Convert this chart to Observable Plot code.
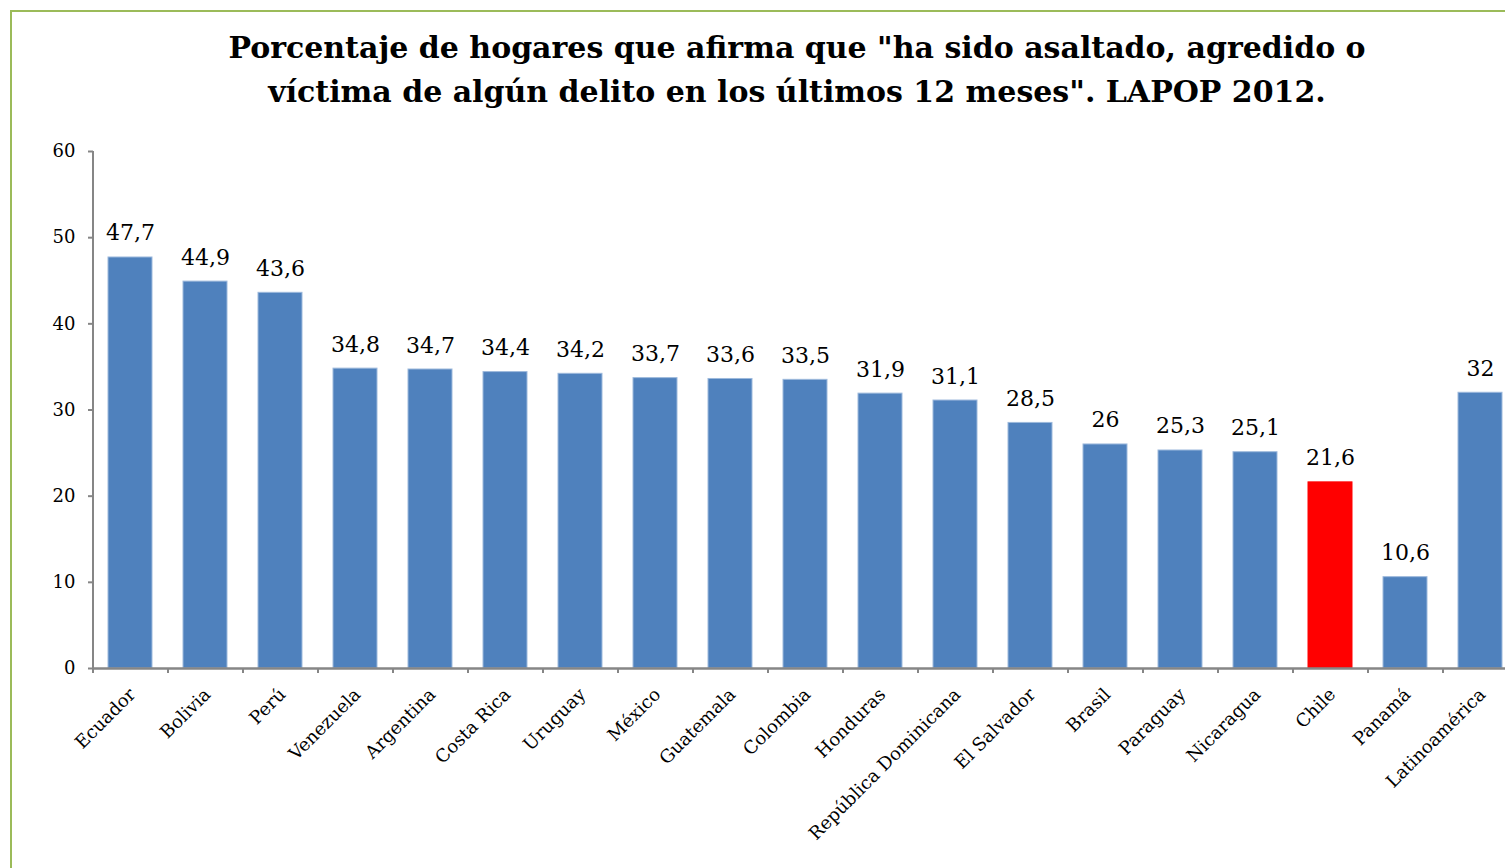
<!DOCTYPE html>
<html>
<head>
<meta charset="utf-8">
<script src="https://cdn.jsdelivr.net/npm/d3@7"></script>
<script src="https://cdn.jsdelivr.net/npm/@observablehq/plot@0.6"></script>
<style>
  html, body { margin: 0; padding: 0; background: #fff; overflow: hidden; width: 1505px; height: 868px; }
  #frame { position: absolute; left: 10px; top: 10px; width: 1600px; height: 900px; border: 2px solid #9BBB59; box-sizing: border-box; }
  #title { position: absolute; left: 0; top: 0; width: 1594px; font-family: "DejaVu Serif", serif; font-weight: bold; font-size: 30px; color: #000; }
  #title div { position: absolute; left: 0; width: 1594px; text-align: center; line-height: 36px; white-space: nowrap; }
  #chart { position: absolute; left: 0; top: 120px; }
  #chart svg { max-width: none; }
</style>
</head>
<body>
<div id="frame"></div>
<div id="title"></div>
<div id="chart"></div>
<script>
const titleLines = [
  "Porcentaje de hogares que afirma que \"ha sido asaltado, agredido o",
  "víctima de algún delito en los últimos 12 meses\". LAPOP 2012."
];
const countries = ["Ecuador","Bolivia","Perú","Venezuela","Argentina","Costa Rica","Uruguay","México","Guatemala","Colombia","Honduras","República Dominicana","El Salvador","Brasil","Paraguay","Nicaragua","Chile","Panamá","Latinoamérica"];
const values = [47.7,44.9,43.6,34.8,34.7,34.4,34.2,33.7,33.6,33.5,31.9,31.1,28.5,26,25.3,25.1,21.6,10.6,32];
const highlighted = ["Chile"];
const yTicks = [0,10,20,30,40,50,60];

const t = document.getElementById("title");
titleLines.forEach((s, i) => {
  const d = document.createElement("div");
  d.textContent = s;
  d.style.top = (30 + i * 44) + "px";
  t.appendChild(d);
});

const data = countries.map((c, i) => ({country: c, value: values[i]}));
const fmt = v => String(v).replace(".", ",");
const axisColor = "#868686";
const font = "DejaVu Serif";

const chart = Plot.plot({
  width: 1540,
  height: 748,
  marginLeft: 93,
  marginRight: 22,
  marginTop: 31,
  marginBottom: 200,
  style: {fontFamily: font, background: "transparent", overflow: "visible", maxWidth: "none"},
  x: {domain: countries, paddingInner: 0.413, paddingOuter: 0.2065, axis: null, label: null},
  y: {domain: [0, 60], axis: null, label: null},
  marks: [
    Plot.barY(data, {
      x: "country", y: "value",
      fill: d => highlighted.includes(d.country) ? "#FF0000" : "#4F81BD",
      stroke: d => highlighted.includes(d.country) ? "#FF0000" : "#9DB9DC",
      strokeWidth: 1
    }),
    Plot.text(data, {
      x: "country", y: "value", text: d => fmt(d.value),
      lineAnchor: "bottom", dy: -17, fontSize: 22, fill: "#000"
    }),
    Plot.axisY({ticks: yTicks, tickSize: 5, tickPadding: 13, fontSize: 18, stroke: axisColor, strokeWidth: 2, color: "#000", tickFormat: d => d, label: null}),
    Plot.ruleX([countries[0]], {dx: -37.5, stroke: axisColor, strokeWidth: 2, y1: 0, y2: 60}),
    Plot.ruleY([0], {stroke: axisColor, strokeWidth: 2.5}),
    Plot.axisX({ticks: countries, text: null, tickSize: 5, dx: -37.5, stroke: axisColor, strokeWidth: 2, label: null}),
    Plot.axisX({ticks: countries, tickSize: 0, tickPadding: 23, tickRotate: -45, dx: 2, fontSize: 18, color: "#000", label: null})
  ]
});
document.getElementById("chart").appendChild(chart);
</script>
</body>
</html>
